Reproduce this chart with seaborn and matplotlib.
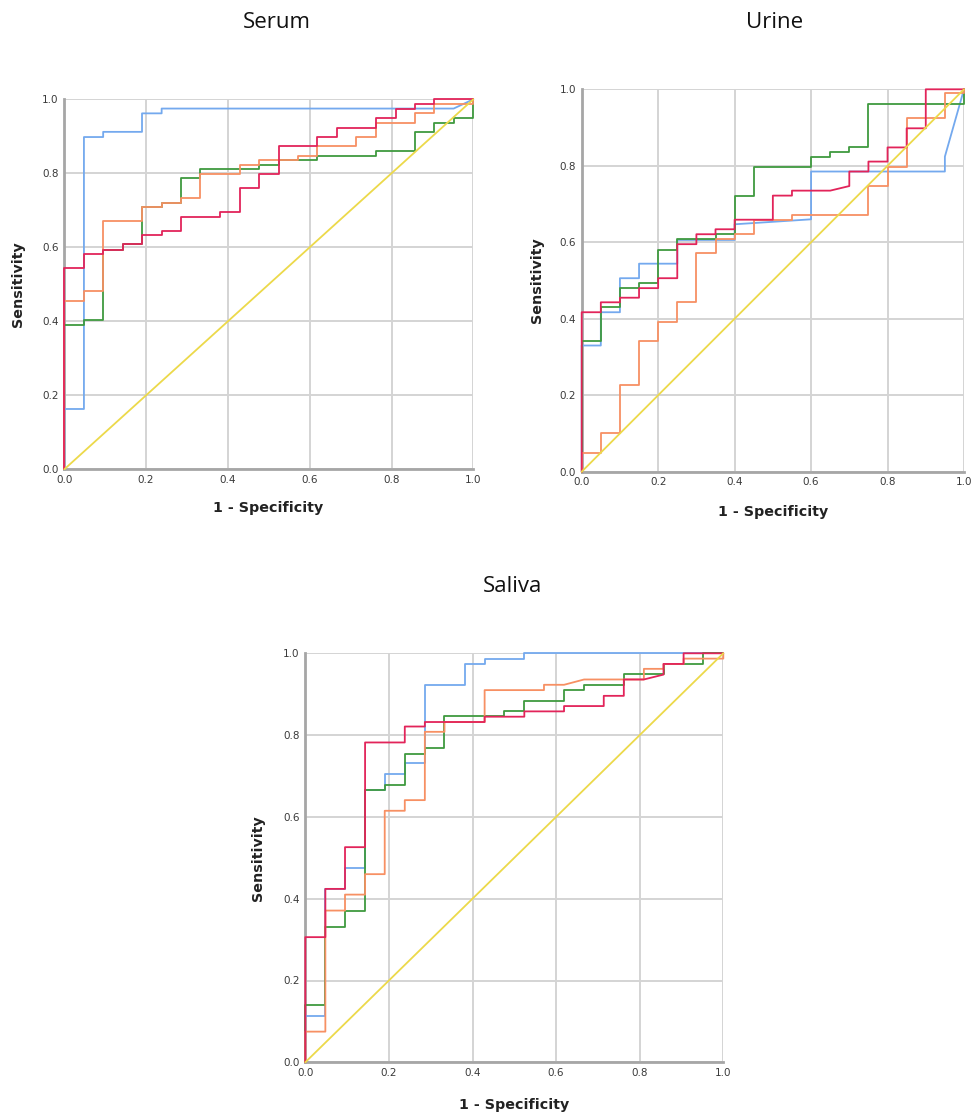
import numpy as np
import pandas as pd
import matplotlib
matplotlib.use("Agg")
import matplotlib.pyplot as plt
import seaborn as sns

sns.set_theme(style="white")
plt.rcParams['font.family'] = ['DejaVu Sans']

# ---------------- data (ROC curve vertices: 1 - specificity, sensitivity) ----------------
# Serum
serum_blue_x = [0, 0, .048, .048, .095, .095, .190, .190, .238, .238, .952, 1.0]
serum_blue_y = [0, .163, .163, .898, .898, .912, .912, .962, .962, .975, .975, 1.0]
serum_red_x = [0, 0, .048, .048, .095, .095, .143, .143, .190, .190, .238, .238, .286, .286, .381, .381,
               .429, .429, .476, .476, .524, .524, .619, .619, .667, .667, .762, .762, .810, .810,
               .857, .857, .905, .905, 1.0]
serum_red_y = [0, .543, .543, .581, .581, .592, .592, .608, .608, .633, .633, .645, .645, .683, .683, .696,
               .696, .759, .759, .797, .797, .873, .873, .898, .898, .923, .923, .949, .949, .975,
               .975, .987, .987, 1.0, 1.0]
serum_orange_x = [0, 0, .048, .048, .095, .095, .190, .190, .238, .238, .286, .286, .333, .333, .429, .429,
                  .476, .476, .571, .571, .619, .619, .714, .714, .762, .762, .857, .857, .905, .905,
                  1.0, 1.0]
serum_orange_y = [0, .455, .455, .481, .481, .671, .671, .708, .708, .721, .721, .734, .734, .798, .798, .823,
                  .823, .835, .835, .848, .848, .873, .873, .898, .898, .936, .936, .962, .962, .987,
                  .987, 1.0]
serum_green_x = [0, 0, .048, .048, .095, .095, .143, .143, .190, .190, .238, .238, .286, .286, .333, .333,
                 .476, .476, .524, .524, .619, .619, .762, .762, .857, .857, .905, .905, .952, .952,
                 1.0, 1.0]
serum_green_y = [0, .391, .391, .403, .403, .592, .592, .608, .608, .708, .708, .721, .721, .786, .786, .811,
                 .811, .823, .823, .835, .835, .848, .848, .860, .860, .911, .911, .936, .936, .949,
                 .949, 1.0]

# Urine
urine_blue_x = [0, 0, .05, .05, .10, .10, .15, .15, .25, .25, .40, .40, .60, .60, .95, .95, 1.0]
urine_blue_y = [0, .330, .330, .417, .417, .506, .506, .544, .544, .606, .606, .647, .660, .785, .785, .824, 1.0]
urine_red_x = [0, 0, .05, .05, .10, .10, .15, .15, .20, .20, .25, .25, .30, .30, .35, .35, .40, .40,
               .50, .50, .55, .55, .65, .70, .70, .75, .75, .80, .80, .85, .85, .90, .90, 1.0]
urine_red_y = [0, .417, .417, .443, .443, .455, .455, .480, .480, .506, .506, .595, .595, .621, .621, .634,
               .634, .659, .659, .722, .722, .735, .735, .747, .785, .785, .811, .811, .848, .848, .898,
               .898, 1.0, 1.0]
urine_orange_x = [0, 0, .05, .05, .10, .10, .15, .15, .20, .20, .25, .25, .30, .30, .35, .35, .40, .40,
                  .45, .45, .55, .55, .75, .75, .80, .80, .85, .85, .95, .95, 1.0, 1.0]
urine_orange_y = [0, .050, .050, .100, .100, .228, .228, .341, .341, .392, .392, .443, .443, .571, .571,
                  .608, .608, .621, .621, .659, .659, .671, .671, .747, .747, .798, .798, .924, .924,
                  .990, .990, 1.0]
urine_green_x = [0, 0, .05, .05, .10, .10, .15, .15, .20, .20, .25, .25, .35, .35, .40, .40, .45, .45,
                 .60, .60, .65, .65, .70, .70, .75, .75, 1.0, 1.0]
urine_green_y = [0, .343, .343, .430, .430, .480, .480, .493, .493, .581, .581, .608, .608, .621, .621,
                 .722, .722, .798, .798, .822, .822, .836, .836, .848, .848, .962, .962, 1.0]

# Saliva
saliva_blue_x = [0, 0, .048, .048, .095, .095, .143, .143, .190, .190, .238, .238, .286, .286, .381, .381,
                 .429, .429, .524, .524, 1.0]
saliva_blue_y = [0, .114, .114, .424, .424, .474, .474, .666, .666, .705, .705, .731, .731, .923, .923, .974,
                 .974, .987, .987, 1.0, 1.0]
saliva_red_x = [0, 0, .048, .048, .095, .095, .143, .143, .238, .238, .286, .286, .429, .429, .524, .524,
                .619, .619, .714, .714, .762, .762, .810, .857, .857, .905, .905, 1.0]
saliva_red_y = [0, .306, .306, .424, .424, .526, .526, .782, .782, .821, .821, .832, .832, .845, .845, .858,
                .858, .871, .871, .896, .896, .936, .936, .948, .974, .974, 1.0, 1.0]
saliva_orange_x = [0, 0, .048, .048, .095, .095, .143, .143, .190, .190, .238, .238, .286, .286, .333, .333,
                   .429, .429, .571, .571, .619, .667, .810, .810, .857, .857, .905, .905, 1.0, 1.0]
saliva_orange_y = [0, .075, .075, .371, .371, .410, .410, .460, .460, .615, .615, .641, .641, .808, .808,
                   .832, .832, .910, .910, .923, .923, .936, .936, .962, .962, .974, .974, .987, .987, 1.0]
saliva_green_x = [0, 0, .048, .048, .095, .095, .143, .143, .190, .190, .238, .238, .286, .286, .333, .333,
                  .476, .476, .524, .524, .619, .619, .667, .667, .762, .762, .857, .857, .952, .952, 1.0]
saliva_green_y = [0, .139, .139, .332, .332, .371, .371, .666, .666, .679, .679, .755, .755, .769, .769, .846,
                  .846, .858, .858, .884, .884, .910, .910, .923, .923, .949, .949, .974, .974, 1.0, 1.0]

reference_x = [0.0, 1.0]
reference_y = [0.0, 1.0]

panels = ["Serum", "Urine", "Saliva"]
series_names = ["blue", "green", "orange", "red", "reference"]
colors = {"blue": "#74a9ee", "green": "#3f9a3f", "orange": "#f79063",
          "red": "#e2245a", "reference": "#ecd94a"}
ticks = [0.0, 0.2, 0.4, 0.6, 0.8, 1.0]
tick_labels = ["0.0", "0.2", "0.4", "0.6", "0.8", "1.0"]

curves = {
    "Serum": {"blue": (serum_blue_x, serum_blue_y), "green": (serum_green_x, serum_green_y),
              "orange": (serum_orange_x, serum_orange_y), "red": (serum_red_x, serum_red_y)},
    "Urine": {"blue": (urine_blue_x, urine_blue_y), "green": (urine_green_x, urine_green_y),
              "orange": (urine_orange_x, urine_orange_y), "red": (urine_red_x, urine_red_y)},
    "Saliva": {"blue": (saliva_blue_x, saliva_blue_y), "green": (saliva_green_x, saliva_green_y),
               "orange": (saliva_orange_x, saliva_orange_y), "red": (saliva_red_x, saliva_red_y)},
}

W, H = 971, 1117
fig = plt.figure(figsize=(W / 100, H / 100), dpi=100)
fig.patch.set_facecolor("white")

# axes boxes in pixels: left, top, right, bottom
boxes = {"Serum": (64.3, 99.3, 473.3, 469.3),
         "Urine": (581.7, 89.3, 964.0, 471.7),
         "Saliva": (305.3, 653.3, 723.3, 1062.3)}
titles_pos = {"Serum": (277, 22), "Urine": (775, 22), "Saliva": (512, 587)}
xlabel_pos = {"Serum": (268, 508), "Urine": (773, 512), "Saliva": (514, 1105)}
ylabel_pos = {"Serum": (18, 284), "Urine": (537, 280), "Saliva": (258, 858)}

for p in panels:
    l, t, r, b = boxes[p]
    ax = fig.add_axes([l / W, 1 - b / H, (r - l) / W, (b - t) / H])
    rows = []
    for s in ["blue", "green", "orange", "red"]:
        xs, ys = curves[p][s]
        for i, (xv, yv) in enumerate(zip(xs, ys)):
            rows.append({"fpr": xv, "tpr": yv, "series": s, "order": i})
    for i, (xv, yv) in enumerate(zip(reference_x, reference_y)):
        rows.append({"fpr": xv, "tpr": yv, "series": "reference", "order": i})
    df = pd.DataFrame(rows)
    sns.lineplot(data=df, x="fpr", y="tpr", hue="series", hue_order=series_names,
                 palette=colors, sort=False, estimator=None, legend=False,
                 linewidth=1.3, ax=ax, clip_on=False, zorder=3)
    ax.set_xlim(0, 1)
    ax.set_ylim(0, 1)
    ax.set_xticks(ticks)
    ax.set_yticks(ticks)
    ax.set_xticklabels(tick_labels)
    ax.set_yticklabels(tick_labels)
    ax.tick_params(axis="both", length=0, labelsize=7.5, labelcolor="#3a3a3a", pad=4)
    ax.grid(True, color="#d4d4d4", linewidth=1.4)
    ax.set_axisbelow(True)
    for side in ["top", "right"]:
        ax.spines[side].set_visible(False)
    for side in ["left", "bottom"]:
        ax.spines[side].set_color("#a6a6a6")
        ax.spines[side].set_linewidth(2)
        ax.spines[side].set_zorder(2)
    ax.set_xlabel("")
    ax.set_ylabel("")
    tx, ty = titles_pos[p]
    fig.text(tx / W, 1 - ty / H, p, ha="center", va="center", fontsize=16,
             family=["Open Sans", "DejaVu Sans"], color="#111111")
    xx, xy = xlabel_pos[p]
    fig.text(xx / W, 1 - xy / H, "1 - Specificity", ha="center", va="center", fontsize=10.3,
             fontweight="bold", color="#222222")
    yx, yy = ylabel_pos[p]
    fig.text(yx / W, 1 - yy / H, "Sensitivity", ha="center", va="center", fontsize=10.3,
             fontweight="bold", rotation=90, color="#222222")

fig.savefig("out.png", dpi=100, facecolor="white")
